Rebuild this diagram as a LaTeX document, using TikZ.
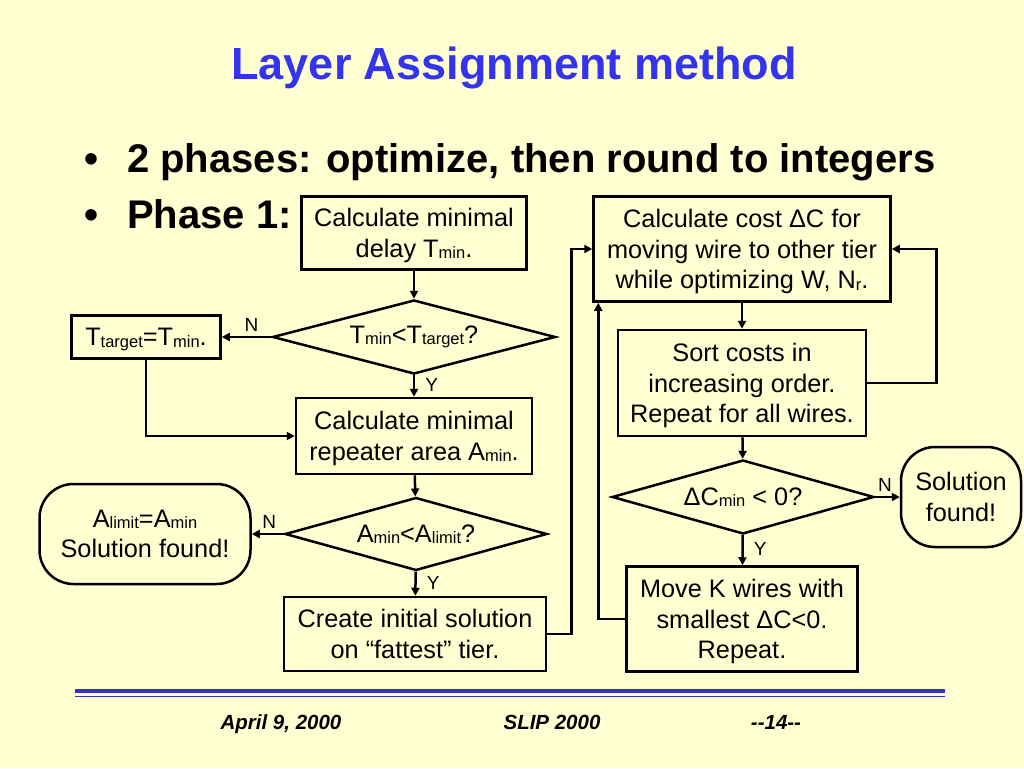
\documentclass[tikz,border=0pt]{standalone}
\usepackage{fontspec}
\setmainfont{Liberation Sans}
\usetikzlibrary{arrows.meta,positioning,calc,shapes.geometric}
\definecolor{SlideBg}{HTML}{FFFFD2}
\definecolor{TitleBlue}{HTML}{3333F0}
\definecolor{RuleBlue}{HTML}{3333CC}
\newcommand{\Lo}[1]{\raisebox{-0.06em}{\fontsize{16.5}{16.5}\selectfont #1}}

\begin{document}
\begin{tikzpicture}[x=1pt,y=-1pt,
  every node/.style={font=\fontsize{25.3}{30.5}\selectfont,inner sep=0pt},
  proc/.style={draw,line width=2.5pt,align=center,text depth=0pt},
  dec/.style={draw,line width=2.5pt,diamond,aspect=3.8,align=center},
  term/.style={draw,line width=2.5pt,rounded corners=34pt,align=center,text depth=0pt},
  flow/.style={line width=2.5pt,-{Triangle[length=8pt,width=8pt]}},
  lbl/.style={font=\fontsize{19}{19}\selectfont,inner sep=4pt}]
\useasboundingbox[fill=SlideBg] (0,0) rectangle (1024,768);
% heading and bullets
\node[anchor=base,text=TitleBlue,font=\fontsize{45}{45}\selectfont\bfseries] (title) at (514,79) {Layer Assignment method};
\node[anchor=base west,font=\fontsize{40}{40}\selectfont\bfseries] (b1) at (84,172) {•};
\node[anchor=base west,font=\fontsize{40}{40}\selectfont\bfseries] (t1) at (127,172) {2 phases: optimize, then round to integers};
\node[anchor=base west,font=\fontsize{40}{40}\selectfont\bfseries] (b2) at (84,228) {•};
\node[anchor=base west,font=\fontsize{40}{40}\selectfont\bfseries] (t2) at (127,228) {Phase 1:};
% left column
\node[proc,minimum width=225pt,minimum height=73pt] (dly) at (414,233) {Calculate minimal\\delay T\Lo{min}.};
\node[dec,minimum width=283pt,minimum height=74pt] (q1) at (414,337) {T\Lo{min}<T\Lo{target}?};
\node[proc,minimum width=149pt,minimum height=43pt] (tt) at (146,337) {T\Lo{target}=T\Lo{min}.};
\node[proc,minimum width=236pt,minimum height=76pt] (rep) at (414,436) {Calculate minimal\\repeater area A\Lo{min}.};
\node[dec,minimum width=262pt,minimum height=73pt] (q2) at (416,534) {A\Lo{min}<A\Lo{limit}?};
\node[term,minimum width=211pt,minimum height=100pt] (alim) at (145,534) {A\Lo{limit}=A\Lo{min}\\Solution found!};
\node[proc,minimum width=262pt,minimum height=74pt] (init) at (415,634) {Create initial solution\\on “fattest” tier.};
% right column
\node[proc,minimum width=297pt,minimum height=105pt] (cost) at (742,249) {Calculate cost ΔC for\\moving wire to other tier\\while optimizing W, N\Lo{r}.};
\node[proc,minimum width=248pt,minimum height=106pt] (sort) at (742,383) {Sort costs in\\increasing order.\\Repeat for all wires.};
\node[dec,minimum width=262pt,minimum height=74pt] (q3) at (743,497) {ΔC\Lo{min} < 0?};
\node[term,minimum width=120pt,minimum height=100pt] (sol) at (961,497) {Solution\\found!};
\node[proc,minimum width=231pt,minimum height=105pt] (mv) at (742,619) {Move K wires with\\smallest ΔC<0.\\Repeat.};
% connectors
\draw[flow] (dly) -- (q1);
\draw[flow] (q1) -- node[lbl,above,pos=0.4] {N} (tt);
\draw[flow] (q1) -- node[lbl,right,pos=0.45,xshift=6pt] {Y} (rep);
\draw[flow] (tt.south) |- (rep.west);
\draw[flow] (rep) -- (q2);
\draw[flow] (q2) -- node[lbl,above,pos=0.45] {N} (alim);
\draw[flow] (q2) -- node[lbl,right,pos=0.45,xshift=6pt] {Y} (init);
\draw[flow] (init.east) -- ++(24,0) |- (cost.west);
\draw[flow] (cost) -- (sort);
\draw[flow] (sort.east) -- ++(69,0) |- (cost.east);
\draw[flow] (sort) -- (q3);
\draw[flow] (q3) -- node[lbl,above,pos=0.4] {N} (sol);
\draw[flow] (q3) -- node[lbl,right,pos=0.45,xshift=6pt] {Y} (mv);
\draw[flow] (mv.west) -| ([xshift=6pt]cost.south west);
% footer
\draw[RuleBlue,line width=4.5pt] (75,691) -- (945,691);
\draw[RuleBlue,line width=1.5pt] (75,696.5) -- (945,696.5);
\node[anchor=base,font=\fontsize{20.5}{20.5}\selectfont\bfseries\itshape] (date) at (281,729) {April 9, 2000};
\node[anchor=base,font=\fontsize{20.5}{20.5}\selectfont\bfseries\itshape] (conf) at (552,729) {SLIP 2000};
\node[anchor=base,font=\fontsize{20.5}{20.5}\selectfont\bfseries\itshape] (page) at (776,729) {{-}{-}14{-}{-}};
\end{tikzpicture}
\end{document}
